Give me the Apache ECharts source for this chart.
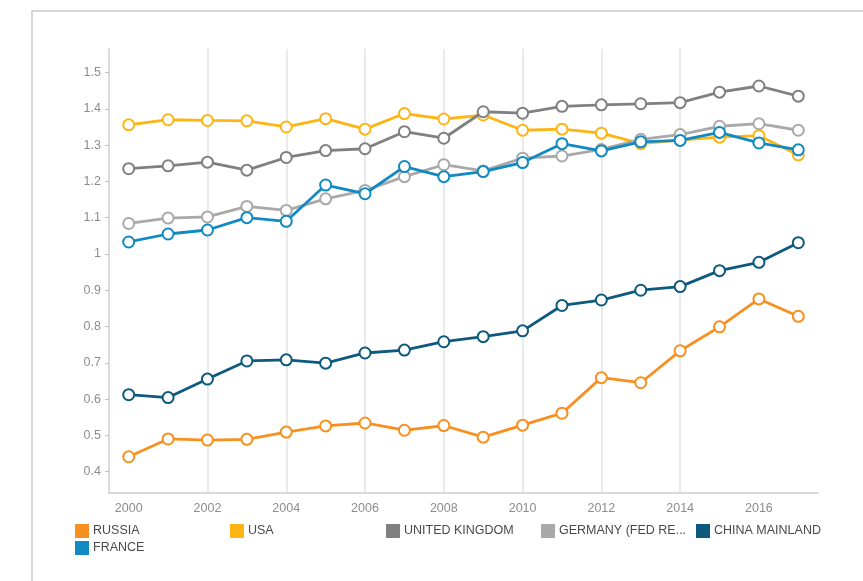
<!DOCTYPE html>
<html>
<head>
<meta charset="utf-8">
<script src="https://cdn.jsdelivr.net/npm/echarts@6/dist/echarts.min.js"></script>
<style>
  html, body { margin: 0; padding: 0; background: #ffffff; }
  #chart { width: 863px; height: 581px; }
</style>
</head>
<body>
<div id="chart"></div>
<script>
// Years on the horizontal axis
const years = [2000, 2001, 2002, 2003, 2004, 2005, 2006, 2007, 2008, 2009,
               2010, 2011, 2012, 2013, 2014, 2015, 2016, 2017];

// One value per year for each country
const russia  = [0.441, 0.490, 0.487, 0.489, 0.509, 0.526, 0.534, 0.514, 0.527, 0.495,
                 0.528, 0.561, 0.659, 0.645, 0.733, 0.799, 0.876, 0.828];
const usa     = [1.356, 1.370, 1.368, 1.367, 1.350, 1.373, 1.344, 1.387, 1.372, 1.383,
                 1.341, 1.344, 1.333, 1.304, 1.314, 1.322, 1.326, 1.273];
const uk      = [1.235, 1.243, 1.253, 1.231, 1.266, 1.285, 1.290, 1.337, 1.319, 1.392,
                 1.388, 1.407, 1.411, 1.414, 1.417, 1.446, 1.463, 1.435];
const germany = [1.084, 1.099, 1.102, 1.131, 1.120, 1.152, 1.175, 1.213, 1.246, 1.229,
                 1.264, 1.270, 1.288, 1.316, 1.329, 1.352, 1.359, 1.341];
const china   = [0.612, 0.604, 0.655, 0.705, 0.708, 0.699, 0.727, 0.735, 0.758, 0.772,
                 0.788, 0.858, 0.873, 0.900, 0.910, 0.954, 0.977, 1.031];
const france  = [1.033, 1.055, 1.066, 1.100, 1.090, 1.190, 1.166, 1.241, 1.213, 1.227,
                 1.252, 1.304, 1.284, 1.309, 1.313, 1.335, 1.306, 1.287];

// Tick labels
const xTickYears = [2000, 2002, 2004, 2006, 2008, 2010, 2012, 2014, 2016];
const yTickValues = [0.4, 0.5, 0.6, 0.7, 0.8, 0.9, 1.0, 1.1, 1.2, 1.3, 1.4, 1.5];

// Series names, in legend order
const names = ['RUSSIA', 'USA', 'UNITED KINGDOM', 'GERMANY (FED REP.)', 'CHINA MAINLAND', 'FRANCE'];
const seriesValues = [russia, usa, uk, germany, china, france];
const colors = ['#F7901E', '#FDB515', '#808080', '#A9A9A9', '#0E5A7E', '#118AC4'];

// Legend grid: five columns on the first row, the rest wraps below
const legendColumns = [75, 230, 386, 541, 696];
const legendRows = [524, 541];

const chart = echarts.init(document.getElementById('chart'), null, { renderer: 'canvas' });

const series = names.map((name, i) => ({
  name: name,
  type: 'line',
  data: years.map((y, j) => [y, seriesValues[i][j]]),
  symbol: 'emptyCircle',
  symbolSize: 11,
  color: colors[i],
  lineStyle: { width: 2.8, color: colors[i] },
  itemStyle: { color: colors[i], borderColor: colors[i], borderWidth: 2.7 },
  emphasis: { disabled: true },
  z: 2 + i
}));

const legends = names.map((name, i) => ({
  data: [name],
  left: legendColumns[i % 5],
  top: legendRows[Math.floor(i / 5)],
  padding: 0,
  orient: 'horizontal',
  icon: 'rect',
  itemWidth: 12,
  itemHeight: 12,
  selectedMode: false,
  textStyle: {
    color: '#4a4a4a',
    fontSize: 12.5,
    width: 130,
    overflow: 'truncate'
  }
}));

chart.setOption({
  animation: false,
  backgroundColor: '#ffffff',
  textStyle: { fontFamily: 'Liberation Sans, Arial, sans-serif' },
  color: colors,
  graphic: [{
    type: 'rect',
    silent: true,
    shape: { x: 32, y: 11, width: 900, height: 700 },
    style: { fill: 'none', stroke: '#c9c9c9', lineWidth: 1.5 }
  }],
  grid: { left: 109, right: 45, top: 49, bottom: 88, containLabel: false },
  legend: legends,
  xAxis: {
    type: 'value',
    min: 1999.5,
    max: 2017.5,
    splitNumber: 9,
    axisLine: { show: true, onZero: false, lineStyle: { color: '#dadada', width: 2 } },
    axisTick: { show: false, customValues: xTickYears },
    axisLabel: {
      customValues: xTickYears,
      color: '#8c8c8c',
      fontSize: 12.5,
      margin: 9,
      formatter: v => (Number.isInteger(v) && v % 2 === 0) ? String(v) : ''
    },
    splitLine: {
      show: true,
      showMinLine: false,
      showMaxLine: false,
      lineStyle: { color: '#e3e3e3', width: 1.5 }
    }
  },
  yAxis: {
    type: 'value',
    min: 0.341,
    max: 1.565,
    splitNumber: 12,
    axisLine: { show: true, lineStyle: { color: '#dadada', width: 2 } },
    axisTick: { show: true, length: 4, customValues: yTickValues, lineStyle: { color: '#c4c4c4', width: 1 } },
    axisLabel: {
      customValues: yTickValues,
      color: '#8c8c8c',
      fontSize: 12.5,
      margin: 8,
      formatter: v => {
        const r = Math.round(v * 10) / 10;
        return Math.abs(r - v) < 1e-6 ? String(r) : '';
      }
    },
    splitLine: { show: false }
  },
  series: series
});
</script>
</body>
</html>
